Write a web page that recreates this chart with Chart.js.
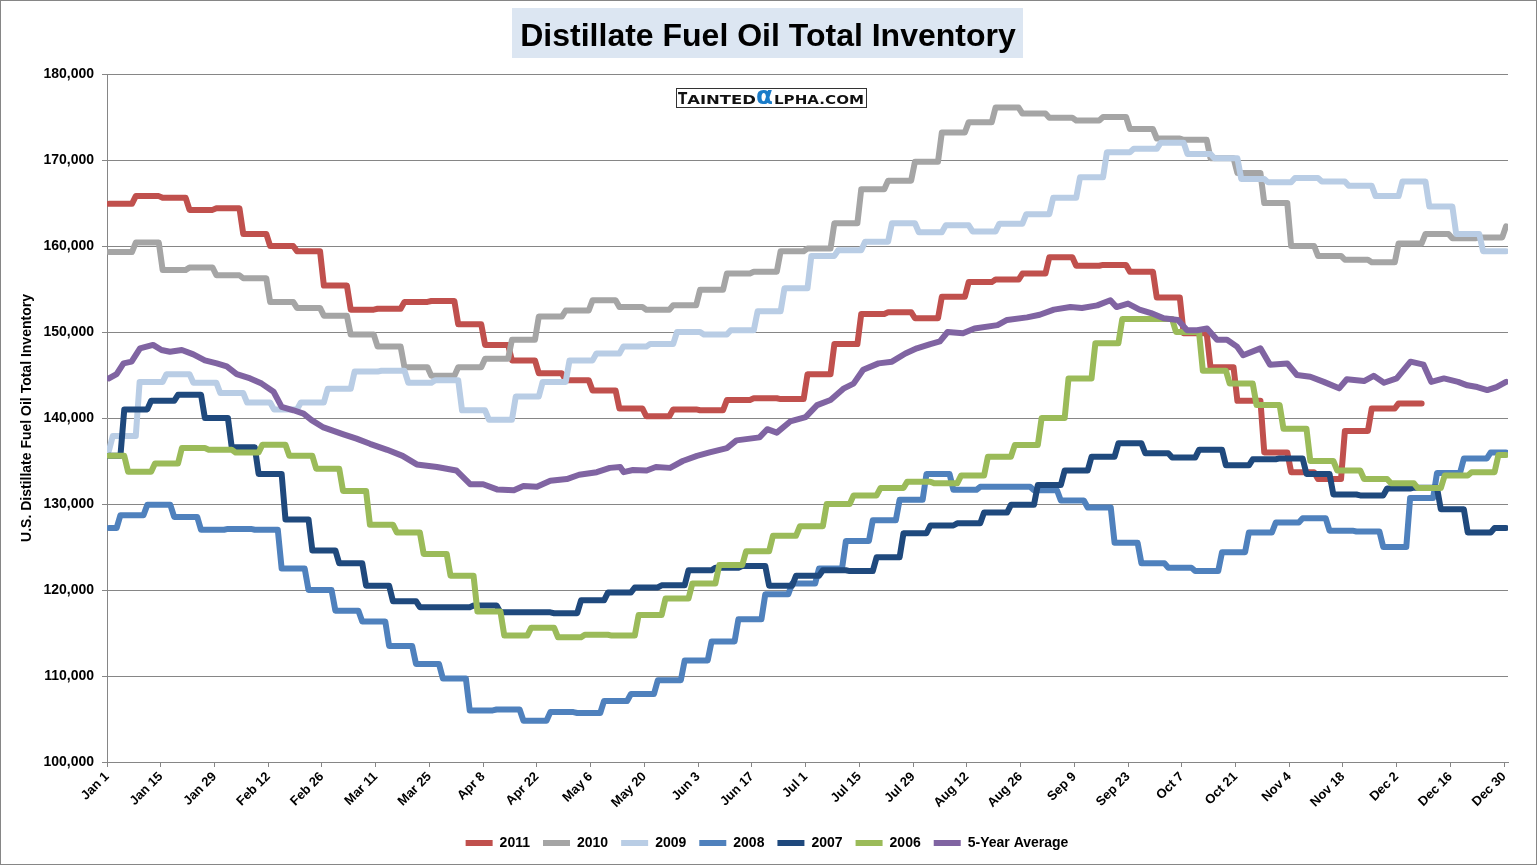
<!DOCTYPE html>
<html>
<head>
<meta charset="utf-8">
<title>Distillate Fuel Oil Total Inventory</title>
<script src="https://cdn.jsdelivr.net/npm/chart.js@4.4.0/dist/chart.umd.min.js"></script>
<style>
  html, body { margin: 0; padding: 0; background: #fff; }
  #wrap { width: 1537px; height: 865px; }
</style>
</head>
<body>
<div id="wrap"><canvas id="inventoryChart" width="1537" height="865"></canvas></div>
<script>
const tickLabels = ['Jan 1', 'Jan 15', 'Jan 29', 'Feb 12', 'Feb 26', 'Mar 11', 'Mar 25', 'Apr 8', 'Apr 22',
    'May 6', 'May 20', 'Jun 3', 'Jun 17', 'Jul 1', 'Jul 15', 'Jul 29', 'Aug 12', 'Aug 26', 'Sep 9',
    'Sep 23', 'Oct 7', 'Oct 21', 'Nov 4', 'Nov 18', 'Dec 2', 'Dec 16', 'Dec 30'];

const seriesNames = ['2011', '2010', '2009', '2008', '2007', '2006', '5-Year Average'];

// weekly stocks (thousand barrels / 1000); first value runs from Jan 1 to the first weekly change
const inv2011 = [164.9, 165.8, 165.6, 164.2, 164.4, 161.4, 160.0, 159.4, 155.4, 152.6, 152.7, 153.5, 153.6,
    150.9, 148.5, 146.7, 145.2, 144.4, 143.2, 141.1, 140.2, 141.0, 140.9, 142.1, 142.3, 142.2, 145.1,
    148.6, 152.1, 152.3, 151.6, 154.1, 155.8, 156.1, 156.8, 158.7, 157.7, 157.8, 157.0, 154.0, 149.85,
    145.9, 142.0, 136.0, 133.7, 132.9, 138.5, 141.1, 141.7];
const inv2010 = [159.3, 160.4, 157.2, 157.5, 156.6, 156.25, 153.5, 152.8, 151.9, 149.7, 148.3, 145.9, 144.9,
    145.9, 146.9, 149.1, 151.8, 152.5, 153.7, 152.9, 152.6, 153.1, 154.9, 156.8, 157.0, 159.4, 159.7,
    162.65, 166.6, 167.6, 169.8, 173.2, 174.4, 176.1, 175.4, 174.9, 174.6, 175.0, 173.6, 172.5, 172.35,
    170.2, 168.5, 165.0, 160.0, 158.85, 158.4, 158.1, 160.3, 161.4, 160.9, 161.0, 162.3];
const inv2009 = [136.2, 137.9, 144.2, 145.1, 144.1, 142.9, 141.8, 141.0, 141.8, 143.4, 145.4, 145.5, 144.1,
    144.4, 140.9, 139.8, 142.5, 144.2, 146.7, 147.5, 148.3, 148.6, 150.0, 149.7, 150.2, 152.4, 155.1,
    158.85, 159.5, 160.5, 162.65, 161.6, 162.4, 161.7, 162.6, 163.7, 165.6, 168.0, 170.9, 171.3, 172.0,
    170.7, 170.2, 167.8, 167.4, 167.9, 167.5, 167.0, 165.8, 167.5, 164.6, 161.4, 159.4];
const inv2008 = [127.2, 128.7, 129.9, 128.5, 127.0, 127.1, 127.0, 122.5, 120.0, 117.6, 116.35, 113.5, 111.4,
    109.7, 106.0, 106.1, 104.8, 105.8, 105.7, 107.1, 107.9, 109.5, 111.8, 114.0, 116.6, 119.5, 120.75,
    122.5, 125.7, 128.1, 130.5, 133.5, 131.65, 132.0, 132.0, 131.6, 130.4, 129.6, 125.5, 123.1, 122.6,
    122.2, 124.4, 126.7, 127.85, 128.35, 126.9, 126.8, 125.0, 130.7, 133.6, 135.3, 136.0];
const inv2007 = [135.6, 141.0, 142.0, 142.7, 140.0, 136.6, 133.5, 128.2, 124.6, 123.1, 120.5, 118.7, 118.0,
    118.0, 118.2, 117.4, 117.4, 117.3, 118.8, 119.7, 120.3, 120.55, 122.3, 122.6, 122.8, 120.5, 121.65,
    122.3, 122.2, 123.8, 126.6, 127.5, 127.75, 129.0, 129.9, 132.2, 133.9, 135.5, 137.05, 135.9, 135.4,
    136.3, 134.5, 135.2, 135.3, 133.5, 131.1, 131.0, 131.8, 131.9, 129.4, 126.7, 127.2];
const inv2006 = [135.6, 133.75, 134.7, 136.5, 136.3, 136.0, 136.9, 135.6, 134.1, 131.5, 127.6, 126.7, 124.2,
    121.65, 117.5, 114.7, 115.6, 114.5, 114.8, 114.7, 117.1, 119.0, 120.75, 122.9, 124.5, 126.3, 127.4,
    130.0, 131.0, 131.85, 132.6, 132.4, 133.3, 135.5, 136.85, 140.0, 144.6, 148.7, 151.5, 151.5, 150.0,
    145.5, 144.0, 141.5, 138.75, 135.0, 133.9, 132.9, 132.4, 131.85, 133.3, 133.7, 135.7];

// day of year on which each year's first weekly change shows up
const firstChange = [7, 7, 1, 3, 4, 5];

// 5-year average, read at the day of year where it turns
const avgDays = [0.5, 2.5, 4.3, 6.4, 8.6, 12, 14.2, 16.4, 19.5, 22.5, 25.5, 28.6, 31.2, 33.8, 37.3, 40.3,
    43.4, 45.5, 48.6, 51.2, 53.3, 56.4, 61.6, 65, 68.5, 73, 77, 80.7, 86, 91, 94.6, 98, 101.6, 106, 108.5,
    112, 115.5, 119.8, 123, 127.6, 131, 133.7, 134.6, 137, 140.6, 143, 146.7, 150, 153.7, 157, 161.5, 164,
    170, 172, 174.5, 178, 182, 185, 188.5, 192, 194.5, 197, 201, 204.5, 208, 211, 214.5, 217, 219, 223,
    226, 232, 234.5, 239.7, 243, 246.7, 251, 254, 258, 261.4, 263, 266, 269, 272, 275.3, 279, 281.4, 284,
    286.6, 289.2, 291.8, 294.4, 296, 300.5, 303, 307.5, 310, 313.5, 317, 321, 323, 327.5, 330, 332.7, 336,
    339.6, 343, 345, 348.3, 352, 354.4, 357, 359.6, 362, 364.5];
const avgValues = [144.6, 145.1, 146.35, 146.55, 148.1, 148.5, 147.9, 147.7, 147.9, 147.4, 146.7, 146.35,
    146.0, 145.1, 144.6, 144.0, 143.05, 141.3, 140.9, 140.5, 139.75, 138.9, 138.1, 137.6, 137.0, 136.3,
    135.6, 134.6, 134.3, 133.9, 132.3, 132.3, 131.7, 131.6, 132.1, 132.0, 132.7, 132.9, 133.4, 133.7,
    134.2, 134.3, 133.7, 133.95, 133.9, 134.3, 134.2, 135.0, 135.6, 136.0, 136.5, 137.4, 137.75, 138.7,
    138.3, 139.6, 140.1, 141.5, 142.1, 143.45, 144.0, 145.6, 146.35, 146.55, 147.5, 148.1, 148.6, 148.9,
    150.0, 149.85, 150.4, 150.8, 151.4, 151.7, 152.0, 152.6, 152.9, 152.8, 153.1, 153.7, 152.9, 153.3,
    152.6, 152.2, 151.6, 151.4, 150.2, 150.2, 150.4, 149.1, 149.1, 148.3, 147.3, 148.1, 146.2, 146.35,
    145.0, 144.8, 144.2, 143.45, 144.5, 144.3, 144.9, 144.1, 144.6, 146.55, 146.2, 144.2, 144.6, 144.2,
    143.8, 143.6, 143.25, 143.6, 144.2];

const seriesColors = ['#c0504d', '#a5a5a5', '#b9cde5', '#4f81bd', '#1f497d', '#9bbb59', '#8064a2'];
const FONT = "'Liberation Sans', Arial, sans-serif";
const YEAR_DAYS = 365;

// each weekly value is held across its days; the line joins day midpoints
function weeklyPoints(values, first){
    const pts = [];
    values.forEach((v, k) => {
        const start = k === 0 ? 0 : first + 7 * (k - 1);
        const end = Math.min(first + 7 * k, YEAR_DAYS);
        pts.push({x: start + 0.5, y: v}, {x: end - 0.5, y: v});
    });
    return pts;
}

const yearlySeries = [inv2011, inv2010, inv2009, inv2008, inv2007, inv2006];
const datasets = yearlySeries.map((values, i) => ({
    label: seriesNames[i],
    data: weeklyPoints(values, firstChange[i]),
    borderColor: seriesColors[i],
    backgroundColor: seriesColors[i],
    order: 6 - i
}));
datasets.push({
    label: seriesNames[6],
    data: avgDays.map((d, i) => ({x: d, y: avgValues[i]})),
    borderColor: seriesColors[6],
    backgroundColor: seriesColors[6],
    order: 0
});
for(let ds of datasets){
    ds.borderWidth = 6;
    ds.pointRadius = 0;
    ds.fill = false;
    ds.tension = 0;
    ds.borderCapStyle = 'round';
    ds.borderJoinStyle = 'round';
}

function fitText(ctx, text, x, width, baseline){
    const w = ctx.measureText(text).width;
    ctx.save();
    ctx.translate(x, baseline);
    ctx.scale(width / w, 1);
    ctx.fillText(text, 0, 0);
    ctx.restore();
}

const framePlugin = {
    id: 'frame',
    afterLayout(chart){
        // legend is centred on the whole canvas, not on the plot
        if(chart.legend){
            chart.legend.left += 13;
            chart.legend.right += 13;
        }
    },
    beforeDraw(chart){
        const ctx = chart.ctx;
        ctx.save();
        ctx.fillStyle = '#ffffff';
        ctx.fillRect(0, 0, chart.width, chart.height);
        ctx.restore();
    },
    afterDraw(chart){
        const ctx = chart.ctx;
        ctx.save();

        // title block
        ctx.fillStyle = '#dce6f2';
        ctx.fillRect(512, 8, 511, 50);
        ctx.fillStyle = '#000';
        ctx.font = `bold 32px ${FONT}`;
        ctx.textAlign = 'center';
        ctx.textBaseline = 'alphabetic';
        ctx.fillText('Distillate Fuel Oil Total Inventory', 768, 46);

        // site badge
        ctx.textAlign = 'left';
        ctx.fillStyle = '#fff';
        ctx.fillRect(676, 88, 191, 19);
        ctx.strokeStyle = '#333';
        ctx.lineWidth = 1;
        ctx.strokeRect(676.5, 88.5, 190, 19);
        ctx.fillStyle = '#111';
        ctx.font = `bold 15px 'DejaVu Sans', sans-serif`;
        const tw = ctx.measureText('T').width * 0.9;
        fitText(ctx, 'T', 678, tw, 103.5);
        ctx.font = `bold 11.5px 'DejaVu Sans', sans-serif`;
        fitText(ctx, 'AINTED', 678 + tw, 756 - 678 - tw, 103.5);
        ctx.fillStyle = '#1a7cc9';
        ctx.font = `bold 24px 'DejaVu Sans', sans-serif`;
        fitText(ctx, 'α', 756, 17, 104);
        ctx.fillStyle = '#111';
        ctx.font = `bold 11.5px 'DejaVu Sans', sans-serif`;
        fitText(ctx, 'LPHA.COM', 774, 90, 103.5);

        // outer border
        ctx.strokeStyle = '#868686';
        ctx.strokeRect(0.5, 0.5, chart.width - 1, chart.height - 1);
        ctx.restore();
    }
};

const inventoryChart = new Chart(document.getElementById('inventoryChart'), {
    type: 'line',
    data: { datasets: datasets },
    options: {
        responsive: false,
        animation: false,
        devicePixelRatio: 1,
        layout: { padding: { top: 74, right: 29, bottom: 5, left: 0 } },
        plugins: {
            tooltip: { enabled: false },
            legend: {
                position: 'bottom',
                labels: {
                    boxWidth: 27,
                    boxHeight: 6,
                    useBorderRadius: true,
                    borderRadius: 3,
                    padding: 13,
                    color: '#000',
                    font: { family: FONT, size: 14, weight: 'bold' },
                    sort: (a, b) => a.datasetIndex - b.datasetIndex,
                    generateLabels: chart => chart.data.datasets.map((ds, i) => ({
                        text: ds.label,
                        fillStyle: ds.borderColor,
                        strokeStyle: ds.borderColor,
                        lineWidth: 0,
                        hidden: false,
                        datasetIndex: i
                    }))
                }
            }
        },
        scales: {
            x: {
                type: 'linear',
                min: 0,
                max: YEAR_DAYS,
                afterBuildTicks: scale => {
                    scale.ticks = tickLabels.map((_, i) => ({ value: i * 14 }));
                },
                afterFit: scale => { scale.height = 61; },
                ticks: {
                    autoSkip: false,
                    minRotation: 45,
                    maxRotation: 45,
                    padding: 2,
                    color: '#000',
                    font: { family: FONT, size: 13, weight: 'bold' },
                    callback: (value, index) => tickLabels[index]
                },
                grid: { drawOnChartArea: false, drawTicks: true, tickLength: 5, color: '#868686' },
                border: { display: true, color: '#868686', width: 1 }
            },
            y: {
                min: 100,
                max: 180,
                afterFit: scale => { scale.width = 107; },
                ticks: {
                    stepSize: 10,
                    padding: 8,
                    color: '#000',
                    font: { family: FONT, size: 14, weight: 'bold' },
                    callback: value => (value * 1000).toLocaleString('en-US')
                },
                grid: { color: '#868686', tickLength: 5 },
                border: { display: true, color: '#868686', width: 1 },
                title: {
                    display: true,
                    text: 'U.S. Distillate Fuel Oil Total Inventory',
                    color: '#000',
                    font: { family: FONT, size: 14, weight: 'bold' },
                    padding: { top: 19, bottom: 0 }
                }
            }
        }
    },
    plugins: [framePlugin]
});
</script>
</body>
</html>
